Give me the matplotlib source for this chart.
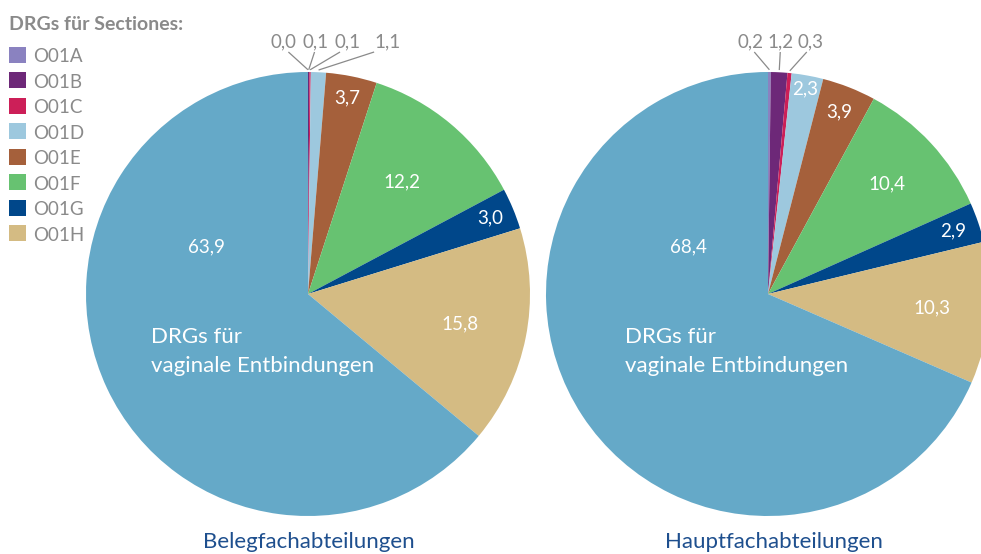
import numpy as np
import matplotlib
matplotlib.use("Agg")
import matplotlib.pyplot as plt
from matplotlib.patches import Rectangle

plt.rcParams["font.family"] = ["Lato", "DejaVu Sans"]

# data
categories = ["O01A", "O01B", "O01C", "O01D", "O01E", "O01F", "O01G", "O01H"]
main_label = "DRGs für\nvaginale Entbindungen"
beleg_values = [0.0, 0.1, 0.1, 1.1, 3.7, 12.2, 3.0, 15.8, 63.9]
haupt_values = [0.2, 1.2, 0.3, 2.3, 3.9, 10.4, 2.9, 10.3, 68.4]
pie_titles = ["Belegfachabteilungen", "Hauptfachabteilungen"]
legend_title = "DRGs für Sectiones:"

colors = ["#8a82c0", "#6d2878", "#cc1f58", "#9dc8de", "#a5603b",
          "#67c271", "#00478a", "#d4bb83", "#65a9c8"]
gray = "#8a8a8a"
title_blue = "#1e4f8e"

W, H = 981, 554
R = 222

# layout per pie: center, inner label radius (fraction; None = outside label),
# outside label x positions, main label offsets, title x
pies = [
    dict(values=beleg_values, center=(308, H - 294),
         fracs=[None, None, None, None, 0.9, 0.66, 0.89, 0.70],
         out_x=[283.5, 316, 347.5, 388],
         main_off=(-102, 47), text_off=-157, title_x=308.5),
    dict(values=haupt_values, center=(768, H - 294),
         fracs=[None, None, None, 0.94, 0.88, 0.73, 0.88, 0.74],
         out_x=[750.5, 780.5, 811],
         main_off=(-80, 47), text_off=-143, title_x=774),
]


def fmt(v):
    return f"{v:.1f}".replace(".", ",")


fig = plt.figure(figsize=(W / 100, H / 100), dpi=100)
ax = fig.add_axes([0, 0, 1, 1])

for p, title in zip(pies, pie_titles):
    vals = p["values"]
    cx, cy = p["center"]
    ax.pie(vals, colors=colors, startangle=90, counterclock=False,
           radius=R, center=(cx, cy), wedgeprops=dict(linewidth=0))

    total = sum(vals)
    cum = np.concatenate([[0], np.cumsum(vals)])
    k = 0
    for i, frac in enumerate(p["fracs"]):
        theta = np.deg2rad(360 * (cum[i] + vals[i] / 2) / total)
        if frac is None:
            tx = p["out_x"][k]
            k += 1
            ax.text(tx, H - 47, fmt(vals[i]), color=gray, fontsize=13.5,
                    ha="center", va="baseline")
            ex = cx + R * 1.01 * np.sin(theta)
            ey = cy + R * 1.01 * np.cos(theta)
            sx = tx + (ex - tx) * 0.2
            ax.plot([sx, ex], [H - 52, ey], color=gray, lw=0.9,
                    solid_capstyle="butt")
        else:
            lx = cx + frac * R * np.sin(theta)
            ly = cy + frac * R * np.cos(theta)
            ax.text(lx, ly, fmt(vals[i]), color="white", fontsize=13.5,
                    ha="center", va="center")

    mx, my = p["main_off"]
    ax.text(cx + mx, cy + my, fmt(vals[-1]), color="white", fontsize=13.5,
            ha="center", va="center")
    line1, line2 = main_label.split("\n")
    ax.text(cx + p["text_off"], cy - 49, line1,
            color="white", fontsize=16, ha="left", va="baseline")
    ax.text(cx + p["text_off"], cy - 78, line2,
            color="white", fontsize=16, ha="left", va="baseline")

    ax.text(p["title_x"], H - 548, title, color=title_blue, fontsize=16,
            ha="center", va="baseline")

# legend
ax.text(9, H - 30, legend_title, color=gray, fontsize=14,
        fontweight="bold", ha="left", va="baseline")
for i, (cat, col) in enumerate(zip(categories, colors)):
    top = 46.7 + i * 25.5
    ax.add_patch(Rectangle((9, H - top - 16), 17, 16, color=col, lw=0))
    ax.text(33, H - top - 15.5, cat, color=gray, fontsize=13.5,
            ha="left", va="baseline")

ax.set_xlim(0, W)
ax.set_ylim(0, H)
ax.set_aspect("equal")
ax.axis("off")

fig.savefig("out.png", dpi=100)
